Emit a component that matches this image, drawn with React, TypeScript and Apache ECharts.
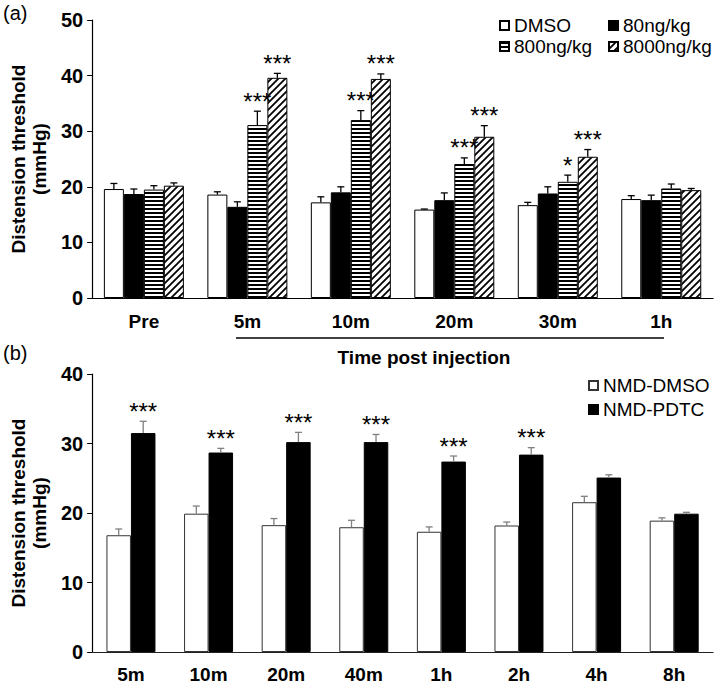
import React, { useEffect, useRef } from "react";
import * as echarts from "echarts";

const topCats = ["Pre", "5m", "10m", "20m", "30m", "1h"];
const dmso = [19.6, 18.6, 17.2, 15.9, 16.7, 17.8];
const dmsoErr = [1.0, 0.5, 1.0, 0.1, 0.5, 0.6];
const ng80 = [18.7, 16.4, 19.0, 17.6, 18.8, 17.6];
const ng80Err = [0.9, 0.9, 1.0, 1.3, 1.2, 0.9];
const ng800 = [19.5, 31.1, 32.0, 24.1, 20.9, 19.7];
const ng800Err = [0.7, 2.5, 1.7, 1.1, 1.2, 0.8];
const ng8000 = [20.2, 39.6, 39.4, 29.0, 25.4, 19.4];
const ng8000Err = [0.5, 0.8, 0.9, 2.0, 1.3, 0.3];
const stars800 = ["", "***", "***", "***", "*", ""];
const stars8000 = ["", "***", "***", "***", "***", ""];

const bottomCats = ["5m", "10m", "20m", "40m", "1h", "2h", "4h", "8h"];
const nmdDmso = [16.8, 19.9, 18.25, 17.95, 17.3, 18.2, 21.55, 18.9];
const nmdDmsoErr = [0.9, 1.1, 0.95, 1.0, 0.7, 0.5, 0.85, 0.4];
const nmdPdtc = [31.5, 28.7, 30.2, 30.2, 27.4, 28.4, 25.1, 19.9];
const nmdPdtcErr = [1.7, 0.6, 1.4, 1.1, 0.8, 1.0, 0.4, 0.2];
const starsPdtc = ["***", "***", "***", "***", "***", "***", "", ""];

const FONT = "'Liberation Sans', Arial, Helvetica, sans-serif";

function hStripe() {
  const c = document.createElement("canvas");
  c.width = 4;
  c.height = 4;
  const ctx = c.getContext("2d")!;
  ctx.fillStyle = "#fff";
  ctx.fillRect(0, 0, 4, 4);
  ctx.fillStyle = "#000";
  ctx.fillRect(0, 0, 4, 2);
  return c;
}

function dStripe() {
  const s = 7;
  const c = document.createElement("canvas");
  c.width = s;
  c.height = s;
  const ctx = c.getContext("2d")!;
  ctx.fillStyle = "#fff";
  ctx.fillRect(0, 0, s, s);
  ctx.strokeStyle = "#000";
  ctx.lineWidth = 1.8;
  ctx.beginPath();
  ctx.moveTo(0, s);
  ctx.lineTo(s, 0);
  ctx.moveTo(-2, 2);
  ctx.lineTo(2, -2);
  ctx.moveTo(s - 2, s + 2);
  ctx.lineTo(s + 2, s - 2);
  ctx.stroke();
  return c;
}

function errSeries(
  name: string,
  vals: number[],
  errs: number[],
  stars: string[] | null,
  offset: number,
  color: string,
  axisIdx: number
) {
  return {
    type: "custom",
    name: name + "_err",
    xAxisIndex: axisIdx,
    yAxisIndex: axisIdx,
    z: 5,
    silent: true,
    data: vals.map((v, i) => [i, v, errs[i]]),
    renderItem: (params: any, api: any) => {
      const x = api.value(0);
      const v = api.value(1);
      const e = api.value(2);
      const base = api.coord([x, v]);
      const top = api.coord([x, v + e]);
      const cx = base[0] + offset;
      const children: any[] = [
        {
          type: "line",
          shape: { x1: cx, y1: base[1], x2: cx, y2: top[1] },
          style: { stroke: color, lineWidth: 1.3 },
        },
        {
          type: "line",
          shape: { x1: cx - 3.5, y1: top[1], x2: cx + 3.5, y2: top[1] },
          style: { stroke: color, lineWidth: 1.3 },
        },
      ];
      const st = stars ? stars[params.dataIndex] : "";
      if (st) {
        children.push({
          type: "text",
          x: cx,
          y: top[1] - 10,
          style: {
            text: st,
            fill: "#000",
            font: `24px ${FONT}`,
            align: "center",
            verticalAlign: "middle",
          },
        });
      }
      return { type: "group", children };
    },
  };
}

export default function App() {
  const ref = useRef<HTMLDivElement>(null);
  useEffect(() => {
    if (!ref.current) return;
    const chart = echarts.init(ref.current, null, { renderer: "svg" });
    const hPat = { image: hStripe(), repeat: "repeat" };
    const dPat = { image: dStripe(), repeat: "repeat" };

    const axisLabel = { color: "#000", fontWeight: "bold", fontSize: 20, fontFamily: FONT };
    const xLabel = { color: "#000", fontWeight: "bold", fontSize: 19, fontFamily: FONT };
    const yName = {
      color: "#000",
      fontWeight: "bold",
      fontSize: 19,
      lineHeight: 21,
      fontFamily: FONT,
    };
    const legendText = { color: "#000", fontSize: 19, fontFamily: FONT };
    const legendText2 = { color: "#000", fontSize: 19, fontFamily: FONT };

    const tw = 20;
    const bw = 24.5;
    const bar = (name: string, data: number[], color: any, idx: number, width: number, border = "#000") => ({
      type: "bar",
      name,
      data,
      xAxisIndex: idx,
      yAxisIndex: idx,
      barWidth: width,
      barGap: "0%",
      itemStyle: { color, borderColor: border, borderWidth: 1 },
    });

    chart.setOption({
      animation: false,
      backgroundColor: "#fff",
      grid: [
        { left: 85, top: 20, width: 628, height: 278, containLabel: false },
        { left: 85, top: 374, width: 628, height: 279, containLabel: false },
      ],
      legend: [
        {
          orient: "vertical",
          left: 494,
          top: 11,
          itemWidth: 9,
          itemHeight: 9,
          itemGap: 2,
          icon: "rect",
          textStyle: legendText,
          data: ["DMSO", "800ng/kg"],
          selectedMode: false,
        },
        {
          orient: "vertical",
          left: 603,
          top: 11,
          itemWidth: 9,
          itemHeight: 9,
          itemGap: 2,
          icon: "rect",
          textStyle: legendText,
          data: ["80ng/kg", "8000ng/kg"],
          selectedMode: false,
        },
        {
          orient: "vertical",
          left: 583,
          top: 371,
          itemWidth: 9,
          itemHeight: 9,
          itemGap: 5,
          icon: "rect",
          textStyle: legendText2,
          data: ["NMD-DMSO", "NMD-PDTC"],
          selectedMode: false,
        },
      ],
      xAxis: [
        {
          type: "category",
          gridIndex: 0,
          data: topCats,
          axisLine: { lineStyle: { color: "#000", width: 1.2 } },
          axisTick: { show: false },
          axisLabel: { ...xLabel, margin: 14 },
        },
        {
          type: "category",
          gridIndex: 1,
          data: bottomCats,
          axisLine: { lineStyle: { color: "#222", width: 1.2 } },
          axisTick: { show: false },
          axisLabel: { ...xLabel, margin: 13 },
        },
      ],
      yAxis: [
        {
          type: "value",
          gridIndex: 0,
          min: 0,
          max: 50,
          interval: 10,
          splitLine: { show: false },
          axisLine: { show: true, lineStyle: { color: "#000", width: 1.2 } },
          axisTick: { show: true, length: 5, lineStyle: { color: "#000" } },
          axisLabel: { ...axisLabel, margin: 9 },
          name: "Distension threshold\n(mmHg)",
          nameLocation: "middle",
          nameGap: 42,
          nameTextStyle: yName,
        },
        {
          type: "value",
          gridIndex: 1,
          min: 0,
          max: 40,
          interval: 10,
          splitLine: { show: false },
          axisLine: { show: true, lineStyle: { color: "#000", width: 1.2 } },
          axisTick: { show: true, length: 5, lineStyle: { color: "#000" } },
          axisLabel: { ...axisLabel, margin: 9 },
          name: "Distension threshold\n(mmHg)",
          nameLocation: "middle",
          nameGap: 42,
          nameTextStyle: yName,
        },
      ],
      graphic: [
        { type: "text", left: 3, top: 3, style: { text: "(a)", fill: "#000", font: `20px ${FONT}` } },
        { type: "text", left: 3, top: 343, style: { text: "(b)", fill: "#000", font: `20px ${FONT}` } },
        {
          type: "line",
          shape: { x1: 236, y1: 338, x2: 664, y2: 338 },
          style: { stroke: "#000", lineWidth: 1.5 },
        },
        {
          type: "text",
          x: 424,
          y: 357,
          style: {
            text: "Time post injection",
            fill: "#000",
            font: `bold 19px ${FONT}`,
            align: "center",
            verticalAlign: "middle",
          },
        },
      ],
      series: [
        bar("DMSO", dmso, "#fff", 0, tw),
        bar("80ng/kg", ng80, "#000", 0, tw),
        bar("800ng/kg", ng800, hPat, 0, tw),
        bar("8000ng/kg", ng8000, dPat, 0, tw),
        errSeries("DMSO", dmso, dmsoErr, null, -1.5 * tw, "#000", 0),
        errSeries("80ng/kg", ng80, ng80Err, null, -0.5 * tw, "#000", 0),
        errSeries("800ng/kg", ng800, ng800Err, stars800, 0.5 * tw, "#000", 0),
        errSeries("8000ng/kg", ng8000, ng8000Err, stars8000, 1.5 * tw, "#000", 0),
        bar("NMD-DMSO", nmdDmso, "#fff", 1, bw, "#333"),
        bar("NMD-PDTC", nmdPdtc, "#000", 1, bw),
        errSeries("NMD-DMSO", nmdDmso, nmdDmsoErr, null, -0.5 * bw, "#808080", 1),
        errSeries("NMD-PDTC", nmdPdtc, nmdPdtcErr, starsPdtc, 0.5 * bw, "#808080", 1),
      ],
    });
    return () => chart.dispose();
  }, []);
  return (
    <div
      ref={ref}
      style={{ position: "fixed", left: 0, top: 0, width: 717, height: 684, background: "#fff" }}
    />
  );
}
